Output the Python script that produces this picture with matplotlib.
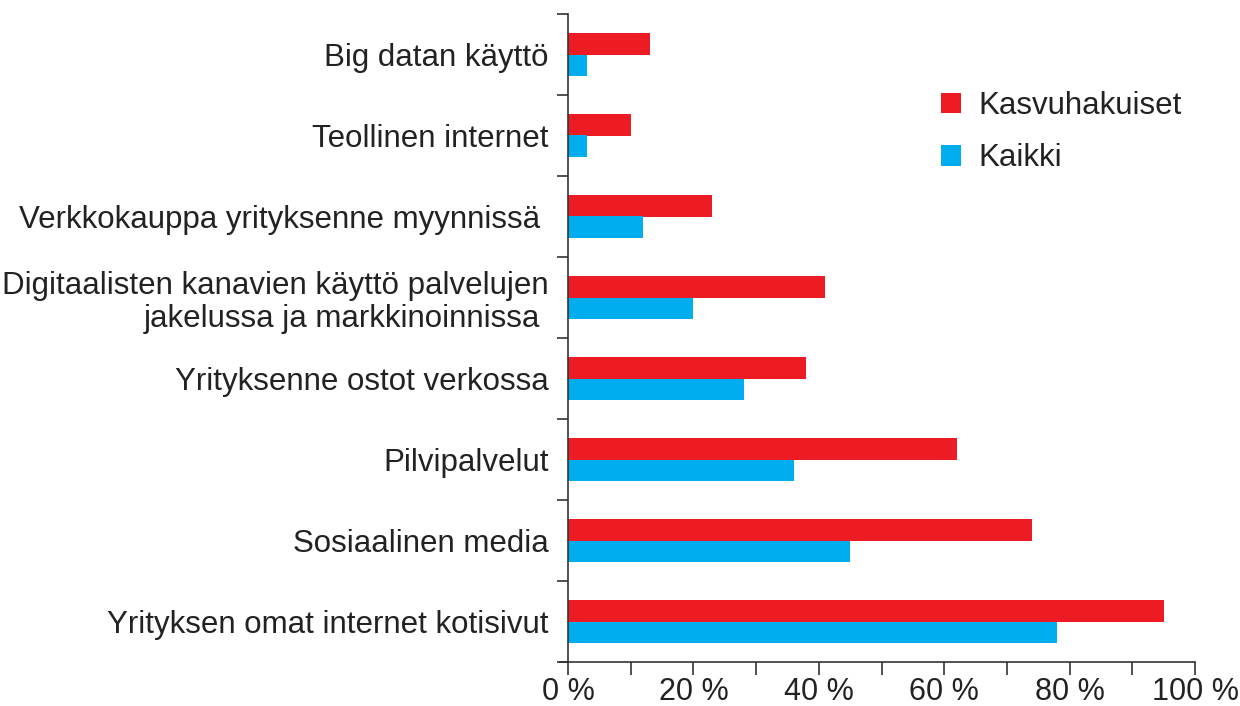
import matplotlib
matplotlib.use("Agg")
import matplotlib.pyplot as plt
import numpy as np

categories = [
    "Yrityksen omat internet kotisivut",
    "Sosiaalinen media",
    "Pilvipalvelut",
    "Yrityksenne ostot verkossa",
    "Digitaalisten kanavien käyttö palvelujen\njakelussa ja markkinoinnissa ",
    "Verkkokauppa yrityksenne myynnissä ",
    "Teollinen internet",
    "Big datan käyttö",
]
kasvuhakuiset = [95, 74, 62, 38, 41, 23, 10, 13]
kaikki = [78, 45, 36, 28, 20, 12, 3, 3]
series_names = ["Kasvuhakuiset", "Kaikki"]
xtick_labels = ["0 %", "20 %", "40 %", "60 %", "80 %", "100 %"]

RED = "#ED1C24"
BLUE = "#00AEEF"

plt.rcParams['font.family'] = ['Liberation Sans', 'DejaVu Sans']
FS = 22.5
W = "normal"
TXT = "#222222"

fig = plt.figure(figsize=(12.4, 7.06), dpi=100)
ax = fig.add_axes([568/1240, 1-662/706, (1195-568)/1240, (662-14)/706])

y = np.arange(len(categories))
h = 0.27
ax.barh(y + h/2, kasvuhakuiset, height=h, color=RED, label=series_names[0])
ax.barh(y - h/2, kaikki, height=h, color=BLUE, label=series_names[1])

ax.set_xlim(0, 100)
ax.set_ylim(-0.5, len(categories) - 0.5)

for s in ["top", "right"]:
    ax.spines[s].set_visible(False)
ax.spines["left"].set_color("#333333")
ax.spines["bottom"].set_color("#333333")
ax.spines["left"].set_linewidth(1.2)
ax.spines["bottom"].set_linewidth(1.2)
ax.spines["bottom"].set_bounds(-1.2, 100)

ax.set_xticks(np.arange(0, 101, 10))
ax.set_xticklabels([xtick_labels[i // 2] if i % 2 == 0 else "" for i in range(11)],
                   fontsize=22, fontweight=W, color=TXT)
ax.tick_params(axis="x", length=9, width=1.2, color="#333333", pad=1.5)

ax.set_yticks(np.arange(-0.5, len(categories), 1.0))
ax.set_yticklabels([])
ax.tick_params(axis="y", which="major", length=8, width=1.2, color="#333333")
ax.set_yticks(y, minor=True)
ax.set_yticklabels(categories, minor=True, fontsize=FS, fontweight=W,
                   color=TXT, linespacing=1.15)
ax.tick_params(axis="y", which="minor", length=0, pad=14)

leg = fig.legend(loc="upper left", bbox_to_anchor=(913/1240, 1-63/706),
                 frameon=False, handlelength=0.64, handleheight=0.64,
                 handletextpad=0.55, labelspacing=0.71,
                 prop={"size": FS, "weight": W})
for t in leg.get_texts():
    t.set_color(TXT)

fig.savefig("out.png", dpi=100, facecolor="white")
